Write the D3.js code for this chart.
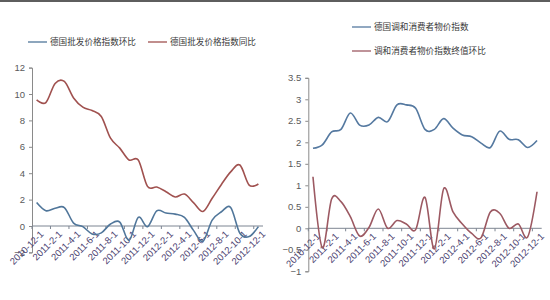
<!DOCTYPE html>
<html>
<head>
<meta charset="utf-8">
<script src="https://cdn.jsdelivr.net/npm/d3@7"></script>
<style>
  body { margin: 0; background: #fff; }
  svg { display: block; }
</style>
</head>
<body>
<div id="chart"></div>
<script>
// monthly categories, Dec 2010 .. Dec 2012
let months = ["2010-12-1","2011-1-1","2011-2-1","2011-3-1","2011-4-1","2011-5-1","2011-6-1",
              "2011-7-1","2011-8-1","2011-9-1","2011-10-1","2011-11-1","2011-12-1",
              "2012-1-1","2012-2-1","2012-3-1","2012-4-1","2012-5-1","2012-6-1",
              "2012-7-1","2012-8-1","2012-9-1","2012-10-1","2012-11-1","2012-12-1"];

// left: wholesale price index
let wholesaleMoM = [1.78, 1.16, 1.34, 1.4, 0.22, -0.05, -0.6, -0.52, 0.15, 0.3, -1.1, 0.66, -0.05,
                    1.15, 0.98, 0.9, 0.65, -0.35, -1.15, 0.45, 1.08, 1.4, -0.55, -0.8, -0.05];
let wholesaleYoY = [9.55, 9.35, 10.8, 10.95, 9.7, 9.0, 8.75, 8.3, 6.65, 5.9, 5.0, 5.0, 3.0,
                    2.95, 2.6, 2.2, 2.42, 1.75, 1.1, 2.1, 3.15, 4.1, 4.62, 3.1, 3.18];
let leftTicks = [-2, 0, 2, 4, 6, 8, 10, 12];

// right: HICP
let hicpYoY = [1.86, 1.94, 2.24, 2.3, 2.68, 2.4, 2.4, 2.58, 2.48, 2.87, 2.87, 2.79, 2.3,
               2.3, 2.55, 2.33, 2.17, 2.13, 1.98, 1.88, 2.26, 2.07, 2.06, 1.88, 2.04];
let hicpMoM = [1.2, -0.45, 0.68, 0.62, 0.27, -0.18, 0.02, 0.45, 0.0, 0.18, 0.1, -0.03, 0.72,
               -0.48, 0.92, 0.38, 0.1, -0.12, -0.22, 0.38, 0.35, 0.0, 0.1, -0.2, 0.85];
let rightTicks = [-1, -0.5, 0, 0.5, 1, 1.5, 2, 2.5, 3, 3.5];

let blue = "#50769a", red = "#a0514f", red2 = "#9c5962";

let svg = d3.select("#chart").append("svg")
    .attr("width", 550).attr("height", 300);

svg.append("rect").attr("x", 0).attr("y", 0).attr("width", 550).attr("height", 2).attr("fill", "#5e5e5e");

function drawPanel(p) {
    let x = d3.scalePoint().domain(months).range([p.x0, p.x1]).padding(0.5);
    let y = d3.scaleLinear().domain(p.domain).range([p.yb, p.yt]);
    let step = x.step();

    // y axis
    let ya = svg.append("g")
        .attr("transform", "translate(" + p.x0 + ",0)")
        .call(d3.axisLeft(y).tickValues(p.ticks).tickSize(3).tickPadding(4).tickFormat(d3.format("")));
    ya.select(".domain").attr("stroke", "#8a8a8a");
    ya.selectAll(".tick line").attr("stroke", "#8a8a8a");
    ya.selectAll("text").attr("fill", "#5a5a5a")
        .style("font-family", "'Liberation Sans', Arial, sans-serif").style("font-size", "9.5px");

    // x axis at zero
    let y0 = y(0);
    svg.append("line").attr("x1", p.x0).attr("x2", p.x1).attr("y1", y0).attr("y2", y0)
        .attr("stroke", "#7d8592").attr("stroke-width", 1);
    let bounds = d3.range(0, months.length + 1, 2);
    svg.selectAll(null).data(bounds).join("line")
        .attr("x1", d => p.x0 + d * step).attr("x2", d => p.x0 + d * step)
        .attr("y1", y0).attr("y2", y0 + 3)
        .attr("stroke", "#7d8592");
    svg.selectAll(null).data(months.filter((d, i) => i % 2 == 0)).join("text")
        .attr("transform", d => "translate(" + (x(d) + 3) + "," + (y0 + 4) + ")rotate(-45)")
        .attr("text-anchor", "end")
        .attr("dy", "0.7em")
        .attr("fill", "#4b4270")
        .style("font-family", "'Liberation Sans', Arial, sans-serif").style("font-size", "9.5px")
        .text(d => d);

    // lines
    let line = d3.line().x((d, i) => x(months[i])).y(d => y(d)).curve(d3.curveCardinal.tension(0));
    p.series.forEach(s => {
        svg.append("path").datum(s.values)
            .attr("fill", "none").attr("stroke", s.color).attr("stroke-width", 1.6)
            .attr("d", line);
    });

    // legend
    p.legend.forEach(l => {
        svg.append("line").attr("x1", l.x).attr("x2", l.x + 19).attr("y1", l.y).attr("y2", l.y)
            .attr("stroke", l.color).attr("stroke-width", 1.3);
        svg.append("text").attr("x", l.x + 22).attr("y", l.y).attr("dy", "0.35em")
            .attr("fill", "#3a3a3a")
            .style("font-family", "'Noto Sans CJK SC', sans-serif").style("font-size", "8.6px")
            .text(l.name);
    });
}

drawPanel({
    x0: 32, x1: 263, yt: 67.6, yb: 252.4, domain: [-2, 12], ticks: leftTicks,
    series: [{values: wholesaleMoM, color: blue}, {values: wholesaleYoY, color: red}],
    legend: [{x: 28, y: 42, color: blue, name: "德国批发价格指数环比"},
             {x: 148, y: 42, color: red, name: "德国批发价格指数同比"}]
});

drawPanel({
    x0: 308.3, x1: 541.7, yt: 77.8, yb: 271.3, domain: [-1, 3.5], ticks: rightTicks,
    series: [{values: hicpYoY, color: "#5579a0"}, {values: hicpMoM, color: red2}],
    legend: [{x: 352, y: 27, color: "#5579a0", name: "德国调和消费者物价指数"},
             {x: 352, y: 51, color: red2, name: "调和消费者物价指数终值环比"}]
});
</script>
</body>
</html>
